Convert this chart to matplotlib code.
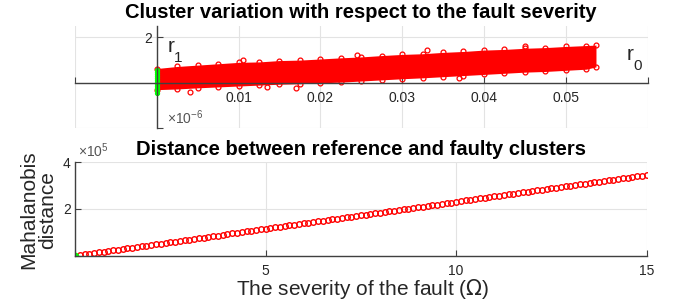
import matplotlib.pyplot as plt
import numpy as np
from matplotlib.ticker import FixedLocator, FixedFormatter

plt.rcParams['font.family'] = ['Liberation Sans', 'DejaVu Sans']

# ---- top panel: cluster outline (x in r0, y in 1e-6) ----
cluster_x = [0, 0.0025, 0.005, 0.0075, 0.01, 0.0125, 0.015, 0.0175, 0.02, 0.0225, 0.025, 0.0275,
             0.03, 0.0325, 0.035, 0.0375, 0.04, 0.0425, 0.045, 0.0475, 0.05, 0.0525, 0.0537]
cluster_upper = [0.63, 0.72, 0.78, 0.84, 0.90, 0.92, 0.98, 1.00, 1.05, 1.10, 1.14, 1.20,
                 1.25, 1.28, 1.34, 1.38, 1.44, 1.47, 1.52, 1.55, 1.60, 1.64, 1.66]
cluster_lower = [-0.30, -0.27, -0.22, -0.18, -0.14, -0.10, -0.06, -0.04, 0.00, 0.03, 0.08, 0.13,
                 0.18, 0.22, 0.27, 0.32, 0.37, 0.42, 0.47, 0.50, 0.55, 0.60, 0.70]
outlier_x = [0.004, 0.0105, 0.0135, 0.017, 0.0245, 0.033, 0.037, 0.045]
outlier_y = [-0.40, 1.00, -0.20, -0.24, 1.22, 1.45, 0.20, 1.62]
ref_y = [-0.43, -0.33, -0.24, -0.15, -0.06, 0.03, 0.12, 0.21, 0.30, 0.39, 0.48, 0.58]

# ---- bottom panel: Mahalanobis distance (x1e5) vs fault severity ----
severity = np.linspace(0, 15, 121)
distance = [0.000, 0.029, 0.058, 0.087, 0.115, 0.144, 0.173, 0.202, 0.231, 0.260,
            0.288, 0.317, 0.346, 0.375, 0.404, 0.433, 0.461, 0.490, 0.519, 0.548,
            0.577, 0.606, 0.634, 0.663, 0.692, 0.721, 0.750, 0.779, 0.808, 0.836,
            0.865, 0.894, 0.923, 0.952, 0.981, 1.009, 1.038, 1.067, 1.096, 1.125,
            1.154, 1.182, 1.211, 1.240, 1.269, 1.298, 1.327, 1.355, 1.384, 1.413,
            1.442, 1.471, 1.500, 1.529, 1.557, 1.586, 1.615, 1.644, 1.673, 1.702,
            1.730, 1.759, 1.788, 1.817, 1.846, 1.875, 1.903, 1.932, 1.961, 1.990,
            2.019, 2.048, 2.076, 2.105, 2.134, 2.163, 2.192, 2.221, 2.250, 2.278,
            2.307, 2.336, 2.365, 2.394, 2.423, 2.451, 2.480, 2.509, 2.538, 2.567,
            2.596, 2.624, 2.653, 2.682, 2.711, 2.740, 2.769, 2.797, 2.826, 2.855,
            2.884, 2.913, 2.942, 2.971, 2.999, 3.028, 3.057, 3.086, 3.115, 3.144,
            3.172, 3.201, 3.230, 3.259, 3.288, 3.317, 3.345, 3.374, 3.403, 3.432,
            3.461]

axis_col = '#262626'
grid_col = '#e3e3e3'
W, H = 678, 306


def box(left, top, right, bottom):
    return [left / W, 1 - bottom / H, (right - left) / W, (bottom - top) / H]


fig = plt.figure(figsize=(6.78, 3.06), dpi=100)

# ================= top axes =================
ax1 = fig.add_axes(box(75, 26, 647.5, 128.3))
ax1.fill_between(cluster_x, cluster_lower, cluster_upper, color='red', lw=0)
for ys in (cluster_upper, cluster_lower):
    ax1.plot(cluster_x, ys, 'o', color='red', mfc='none', ms=3.5, mew=0.9)
ax1.plot(outlier_x, outlier_y, 'o', color='red', mfc='none', ms=3.5, mew=0.9)
ax1.plot(np.zeros(len(ref_y)), ref_y, 'o', color='#00ff00', mfc='#00ff00', ms=3, mew=0.8)

ax1.set_xlim(-0.01, 0.06)
ax1.set_ylim(-2, 2.5)
xt = [-0.01, 0, 0.01, 0.02, 0.03, 0.04, 0.05, 0.06]
ax1.xaxis.set_major_locator(FixedLocator(xt))
ax1.xaxis.set_major_formatter(FixedFormatter(['', '', '0.01', '0.02', '0.03', '0.04', '0.05', '']))
ax1.yaxis.set_major_locator(FixedLocator([-2, 0, 2]))
ax1.yaxis.set_major_formatter(FixedFormatter(['', '', '2']))
ax1.spines['left'].set_position(('data', 0))
ax1.spines['bottom'].set_position(('data', 0))
ax1.spines['right'].set_visible(False)
ax1.spines['top'].set_visible(False)
ax1.grid(True, color=grid_col, lw=0.8)
ax1.set_axisbelow(True)

# axis names r1 / r0 drawn MATLAB style (large subscript)
ax1.text(0.161, 0.80, 'r', transform=ax1.transAxes, fontsize=15, ha='left', va='center', color=axis_col)
ax1.text(0.172, 0.685, '1', transform=ax1.transAxes, fontsize=11, ha='left', va='center', color=axis_col)
ax1.text(0.964, 0.72, 'r', transform=ax1.transAxes, fontsize=15, ha='left', va='center', color=axis_col)
ax1.text(0.975, 0.605, '0', transform=ax1.transAxes, fontsize=11, ha='left', va='center', color=axis_col)
ax1.text(0.161, 0.105, r'$\mathregular{\times10^{-6}}$', transform=ax1.transAxes, fontsize=10,
         ha='left', va='center', color='#555555')
ax1.text(0.5, 1.08, 'Cluster variation with respect to the fault severity',
         transform=ax1.transAxes, fontsize=14.5, fontweight='bold', ha='center', va='baseline')

# ================= bottom axes =================
ax2 = fig.add_axes(box(75, 162.3, 646.7, 255.7))
ax2.plot(severity[1:], distance[1:], 'o', color='red', mfc='none', ms=4, mew=1.0)
ax2.plot(severity[:1], distance[:1], 'o', color='#00ff00', mfc='#00ff00', ms=4.5)
ax2.set_xlim(0, 15)
ax2.set_ylim(0, 4)
ax2.xaxis.set_major_locator(FixedLocator([0, 5, 10, 15]))
ax2.xaxis.set_major_formatter(FixedFormatter(['', '5', '10', '15']))
ax2.yaxis.set_major_locator(FixedLocator([0, 2, 4]))
ax2.yaxis.set_major_formatter(FixedFormatter(['', '2', '4']))
ax2.spines['right'].set_visible(False)
ax2.spines['top'].set_visible(False)
ax2.grid(True, color=grid_col, lw=0.8)
ax2.set_axisbelow(True)
ax2.text(0.005, 1.12, r'$\mathregular{\times10^{5}}$', transform=ax2.transAxes, fontsize=10,
         ha='left', va='center', color='#555555')
ax2.text(0.5, 1.078, 'Distance between reference and faulty clusters',
         transform=ax2.transAxes, fontsize=14.5, fontweight='bold', ha='center', va='baseline')

for ax in (ax1, ax2):
    for s in ('left', 'bottom'):
        ax.spines[s].set_color('#404040')
        ax.spines[s].set_linewidth(1.0)
    ax.tick_params(direction='in', length=4, width=0.8, color='#404040',
                   labelsize=10, labelcolor=axis_col)
    ax.tick_params(axis='x', pad=6)
    ax.tick_params(axis='y', pad=3)

fig.text(0.056, 0.314, 'Mahalanobis\ndistance', rotation=90, fontsize=15,
         ha='center', va='center', ma='center', linespacing=1.0, color=axis_col)
fig.text(0.535, 0.036, 'The severity of the fault ($\\Omega$)', fontsize=15,
         ha='center', va='baseline', color=axis_col)

fig.savefig('out.png', dpi=100)
